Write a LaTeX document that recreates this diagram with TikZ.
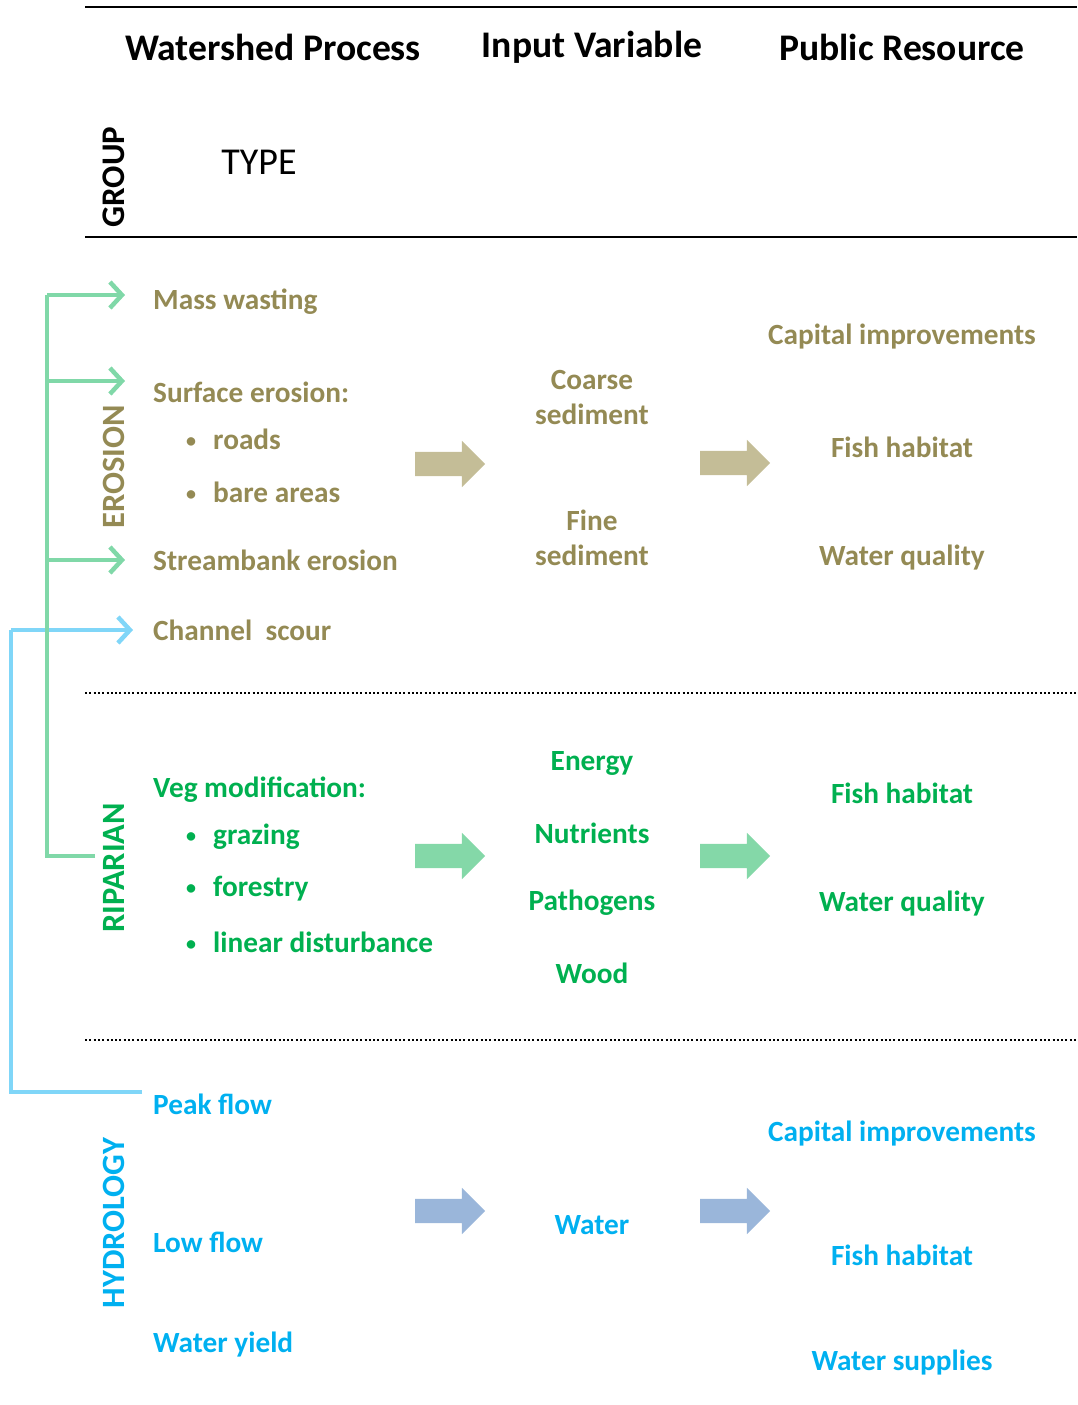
\documentclass[tikz,border=0pt]{standalone}
\usepackage{fontspec}
\setmainfont{Carlito}
\usetikzlibrary{arrows.meta}
\usetikzlibrary{positioning}
\usetikzlibrary{shapes.arrows}

\definecolor{erotext}{HTML}{948A54}
\definecolor{riptext}{HTML}{00B050}
\definecolor{hydtext}{HTML}{00B0F0}
\definecolor{eroarrow}{HTML}{C4BD97}
\definecolor{riparrow}{HTML}{84D8A8}
\definecolor{hydarrow}{HTML}{9AB6DA}
\definecolor{ripline}{HTML}{80D8A8}
\definecolor{hydline}{HTML}{80D6F8}

\newcommand{\itembullet}{\makebox[28pt][l]{\hspace{1pt}\raisebox{2pt}{\fontsize{20}{20}\selectfont •}}}

\begin{document}
\begin{tikzpicture}[
	x = 1pt, y = -1pt,
	heading/.style = {
	  font = \fontsize{37.6}{42}\selectfont\bfseries, text = black,
	  inner sep = 0pt,
	},
	grouplabel/.style = {
	  font = \fontsize{32.5}{38}\selectfont\bfseries,
	  rotate = 90, inner sep = 0pt,
	},
	item/.style = {
	  font = \fontsize{29.3}{35}\selectfont\bfseries,
	  anchor = west, inner sep = 0pt,
	},
	centred/.style = {
	  font = \fontsize{29.3}{35}\selectfont\bfseries,
	  align = center, inner sep = 0pt,
	},
	blockarrow/.style = {
	  single arrow, draw = none,
	  minimum height = 70pt, minimum width = 46pt,
	  single arrow head extend = 11pt,
	  single arrow head indent = 0pt,
	  inner sep = 0pt,
	},
	branch/.style = {
	  line width = 4.5pt,
	  -{Straight Barb[length=12pt, width=26pt]},
	},
	trunk/.style = {line width = 4.5pt},
	rule/.style = {black, line width = 2.5pt},
	divider/.style = {black, line width = 2pt, dash pattern = on 2pt off 2.3pt},
  ]
  \useasboundingbox (0,0) rectangle (1077,1405);

  % header
  \draw[rule] (85,7) -- (1077,7);
  \draw[rule] (85,237) -- (1077,237);
  \node[heading] (hProcess) at (273,47) {Watershed Process};
  \node[heading] (hInput) at (592,47) {Input Variable};
  \node[heading] (hResource) at (902,47) {Public Resource};
  \node[grouplabel, text = black, font = \fontsize{33}{38}\selectfont\bfseries]
	(group) at (114,177) {GROUP};
  \node[font = \fontsize{38}{42}\selectfont, inner sep = 0pt] (type) at (259,162) {TYPE};

  % erosion
  \begin{scope}[text = erotext]
	\node[grouplabel] (erosion) at (114,467) {EROSION};
	\node[item] (mass) at (153,302) {Mass wasting};
	\node[item] (surface) at (153,392) {Surface erosion:};
	\node[item] (roads) at (185,439) {\itembullet roads};
	\node[item] (bare) at (185,492) {\itembullet bare areas};
	\node[item] (streambank) at (153,560) {Streambank erosion};
	\node[item] (channel) at (153,630) {Channel\ \ scour};
	\node[centred] (coarse) at (592,397) {Coarse\\sediment};
	\node[centred] (fine) at (592,538) {Fine\\sediment};
	\node[centred] (eCapital) at (902,337) {Capital improvements};
	\node[centred] (eFish) at (902,447) {Fish habitat};
	\node[centred] (eQuality) at (902,558) {Water quality};
  \end{scope}
  \node[blockarrow, fill = eroarrow] (eArrowA) at (444,464) {\rule{0pt}{24pt}};
  \node[blockarrow, fill = eroarrow] (eArrowB) at (729,463) {\rule{0pt}{24pt}};

  \draw[divider] (85,693) -- (1077,693);

  % riparian
  \begin{scope}[text = riptext]
	\node[grouplabel] (riparian) at (114,868) {RIPARIAN};
	\node[item] (veg) at (153,790) {Veg modification:};
	\node[item] (grazing) at (185,837) {\itembullet grazing};
	\node[item] (forestry) at (185,889) {\itembullet forestry};
	\node[item] (linear) at (185,942) {\itembullet linear disturbance};
	\node[centred] (energy) at (592,763) {Energy};
	\node[centred] (nutrients) at (592,833) {Nutrients};
	\node[centred] (pathogens) at (592,903) {Pathogens};
	\node[centred] (wood) at (592,973) {Wood};
	\node[centred] (rFish) at (902,793) {Fish habitat};
	\node[centred] (rQuality) at (902,904) {Water quality};
  \end{scope}
  \node[blockarrow, fill = riparrow] (rArrowA) at (444,856) {\rule{0pt}{24pt}};
  \node[blockarrow, fill = riparrow] (rArrowB) at (729,856) {\rule{0pt}{24pt}};

  \draw[divider] (85,1040) -- (1077,1040);

  % hydrology
  \begin{scope}[text = hydtext]
	\node[grouplabel] (hydrology) at (114,1223) {HYDROLOGY};
	\node[item] (peak) at (153,1104) {Peak flow};
	\node[item] (low) at (153,1242) {Low flow};
	\node[item] (yield) at (153,1345) {Water yield};
	\node[centred] (water) at (592,1225) {Water};
	\node[centred] (hCapital) at (902,1134) {Capital improvements};
	\node[centred] (hFish) at (902,1255) {Fish habitat};
	\node[centred] (hSupplies) at (902,1363) {Water supplies};
  \end{scope}
  \node[blockarrow, fill = hydarrow] (hArrowA) at (444,1211) {\rule{0pt}{24pt}};
  \node[blockarrow, fill = hydarrow] (hArrowB) at (729,1211) {\rule{0pt}{24pt}};

  % links from riparian and hydrology up to erosion
  \coordinate (gTop) at (47,295);
  \coordinate (gSurface) at (47,381);
  \coordinate (gStream) at (47,560);
  \coordinate (gBottom) at (47,856);
  \coordinate (gEnd) at (95,856);
  \coordinate (bTop) at (11,630);
  \coordinate (bBottom) at (11,1092);
  \coordinate (bEnd) at (142,1092);

  \draw[trunk, hydline] (bEnd) -- (bBottom) -- (bTop);
  \draw[branch, hydline, shorten > = 20pt] (bTop) -- (channel.west);
  \draw[trunk, ripline] (gEnd) -- (gBottom) -- (gTop);
  \draw[branch, ripline, shorten > = 28pt] (gTop) -- ([yshift=7pt]mass.west);
  \draw[branch, ripline, shorten > = 28pt] (gSurface) -- ([yshift=11pt]surface.west);
  \draw[branch, ripline, shorten > = 28pt] (gStream) -- (streambank.west);
\end{tikzpicture}
\end{document}
